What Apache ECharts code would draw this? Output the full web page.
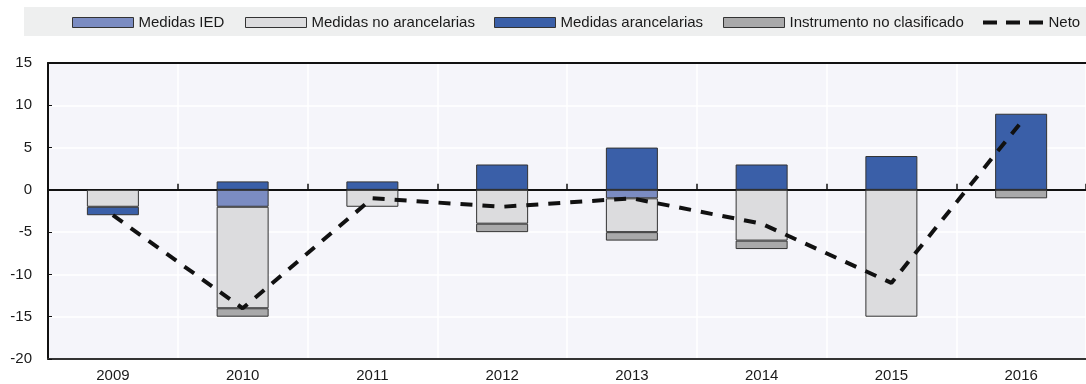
<!DOCTYPE html>
<html>
<head>
<meta charset="utf-8">
<script src="https://cdn.jsdelivr.net/npm/echarts@6/dist/echarts.min.js"></script>
<style>
  html, body { margin: 0; padding: 0; background: #ffffff; }
  #chart { width: 1086px; height: 384px; }
</style>
</head>
<body>
<div id="chart"></div>
<script>
// Years on the category axis
const years = ['2009', '2010', '2011', '2012', '2013', '2014', '2015', '2016'];

// Contributions by instrument type
const medidasIED        = [0, -2, 0, 0, -1, 0, 0, 0];
const medidasNoArancel  = [-2, -12, -2, -4, -4, -6, -15, 0];
const medidasArancel    = [-1, 1, 1, 3, 5, 3, 4, 9];
const instrumentoNoClas = [0, -1, 0, -1, -1, -1, 0, -1];

// Net balance
const neto = [-3, -14, -1, -2, -1, -4, -11, 8];

// Value-axis ticks
const yMin = -20, yMax = 15, yStep = 5;

const FONT = "'Liberation Sans Narrow', 'Arial Narrow', 'Liberation Sans', Arial, sans-serif";
const TXT = '#1a1a1a';

const names = ['Medidas IED', 'Medidas no arancelarias', 'Medidas arancelarias', 'Instrumento no clasificado', 'Neto'];
const fills = ['#7b8cc2', '#dcdcde', '#3a5fa8', '#a9a9aa'];
const values = [medidasIED, medidasNoArancel, medidasArancel, instrumentoNoClas];
const legendLeft = [72, 245, 494, 723, 983];

// three short bars used as the legend symbol of the dashed net line
const dashIcon = 'path://M0,0h14v4h-14z M23,0h14v4h-14z M46,0h14v4h-14z';

const chart = echarts.init(document.getElementById('chart'), null, { renderer: 'canvas' });

const barSeries = values.map((v, i) => ({
  name: names[i],
  type: 'bar',
  stack: 'total',
  data: v.map(x => (x === 0 ? null : x)),
  barWidth: 52,
  itemStyle: { color: fills[i], borderColor: '#333333', borderWidth: 1 },
  emphasis: { disabled: true },
  z: 3
}));

const option = {
  animation: false,
  backgroundColor: '#ffffff',
  textStyle: { fontFamily: FONT },
  graphic: [{
    type: 'rect',
    shape: { x: 24, y: 7, width: 1070, height: 29 },
    style: { fill: '#eeefef' },
    z: -1
  }],
  legend: names.map((n, i) => ({
    data: [{ name: n, icon: i === 4 ? dashIcon : 'rect' }],
    left: legendLeft[i],
    top: 15,
    itemWidth: 61,
    itemHeight: i === 4 ? 4 : 10,
    itemGap: 0,
    padding: 0,
    selectedMode: false,
    textStyle: { fontFamily: FONT, fontSize: 15, color: TXT },
    itemStyle: i === 4 ? { color: '#111111', borderWidth: 0 } : { borderColor: '#333333', borderWidth: 1 },
    lineStyle: i === 4 ? { width: 0 } : undefined
  })),
  grid: { left: 48, top: 63, right: -8, bottom: 25, containLabel: false,
          show: true, backgroundColor: '#f5f5fa', borderWidth: 0 },
  xAxis: [
    {
      type: 'category', data: years, position: 'bottom',
      axisLine: { onZero: false, lineStyle: { color: '#333', width: 2 } },
      axisTick: { show: false },
      axisLabel: { color: TXT, fontSize: 15, fontFamily: FONT, margin: 9 },
      splitLine: { show: true, lineStyle: { color: '#ffffff', width: 1.5 } }
    },
    {
      type: 'category', data: years, position: 'bottom',
      axisLine: { onZero: true, lineStyle: { color: '#111', width: 2 } },
      axisTick: { show: true, inside: true, length: 6, lineStyle: { color: '#111', width: 1.5 } },
      axisLabel: { show: false },
      splitLine: { show: false }
    },
    {
      type: 'category', data: years, position: 'top',
      axisLine: { onZero: false, lineStyle: { color: '#111', width: 2 } },
      axisTick: { show: false },
      axisLabel: { show: false },
      splitLine: { show: false }
    }
  ],
  yAxis: {
    type: 'value', min: yMin, max: yMax, interval: yStep,
    axisLine: { show: true, lineStyle: { color: '#111', width: 2 } },
    axisTick: { show: true, inside: true, length: 4, lineStyle: { color: '#111' } },
    axisLabel: { color: TXT, fontSize: 15, fontFamily: FONT, margin: 16 },
    splitLine: { show: true, lineStyle: { color: '#ffffff', width: 1.5 } }
  },
  series: [
    ...barSeries,
    {
      name: names[4],
      type: 'line',
      data: neto,
      symbol: 'none',
      lineStyle: { color: '#111', width: 4, type: [12, 10], cap: 'butt' },
      itemStyle: { color: '#111' },
      emphasis: { disabled: true },
      z: 5
    }
  ]
};

chart.setOption(option);
</script>
</body>
</html>
